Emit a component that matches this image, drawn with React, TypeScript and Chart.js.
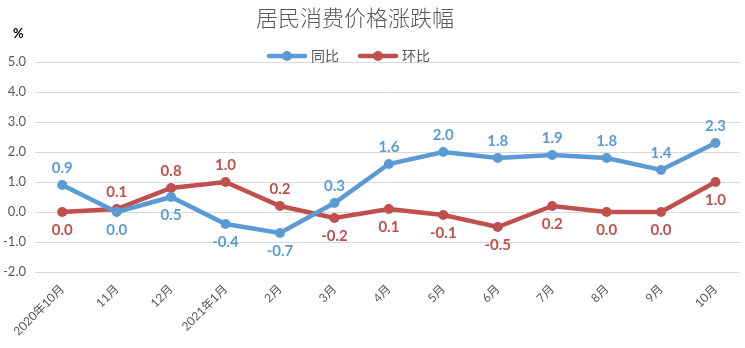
import React, { useEffect, useRef } from "react";
import { Chart, registerables } from "chart.js";

Chart.register(...registerables);

const categories = ["2020年10月", "11月", "12月", "2021年1月", "2月", "3月", "4月", "5月", "6月", "7月", "8月", "9月", "10月"];
const yoy = [0.9, 0.0, 0.5, -0.4, -0.7, 0.3, 1.6, 2.0, 1.8, 1.9, 1.8, 1.4, 2.3];
const mom = [0.0, 0.1, 0.8, 1.0, 0.2, -0.2, 0.1, -0.1, -0.5, 0.2, 0.0, 0.0, 1.0];
// label placement: 1 = above, -1 = below
const yoyPos = [1, -1, -1, -1, -1, 1, 1, 1, 1, 1, 1, 1, 1];
const momPos = [-1, 1, 1, 1, 1, -1, -1, -1, -1, -1, -1, -1, -1];
const seriesNames = ["同比", "环比"];
const title = "居民消费价格涨跌幅";

const BLUE = "#5B9BD5";
const RED = "#C0504D";
const GRAY = "#595959";

const overlay = {
  id: "overlay",
  afterDatasetsDraw(chart: any) {
    const ctx = chart.ctx;
    ctx.save();
    const sets = [
      { pos: yoyPos, color: BLUE, data: yoy },
      { pos: momPos, color: RED, data: mom },
    ];
    sets.forEach((s, di) => {
      const meta = chart.getDatasetMeta(di);
      ctx.font = "bold 15px Lato, 'Open Sans', sans-serif";
      ctx.fillStyle = s.color;
      ctx.textAlign = "center";
      ctx.textBaseline = "middle";
      meta.data.forEach((pt: any, i: number) => {
        const off = s.pos[i] > 0 ? -17 : 18;
        ctx.fillText(s.data[i].toFixed(1), pt.x, pt.y + off);
      });
    });
    ctx.restore();
  },
  afterDraw(chart: any) {
    const ctx = chart.ctx;
    ctx.save();
    // title
    ctx.font = "300 22px 'Noto Sans CJK SC', sans-serif";
    ctx.fillStyle = GRAY;
    ctx.textAlign = "center";
    ctx.textBaseline = "middle";
    ctx.fillText(title, 355, 18);
    // percent unit
    ctx.font = "bold 13px Lato, sans-serif";
    ctx.fillStyle = "#000";
    ctx.textAlign = "left";
    ctx.fillText("%", 13, 34);
    // legend
    const items = [
      { name: seriesNames[0], color: BLUE, x: 269 },
      { name: seriesNames[1], color: RED, x: 360 },
    ];
    items.forEach((it) => {
      ctx.strokeStyle = it.color;
      ctx.lineWidth = 4.5;
      ctx.lineCap = "round";
      ctx.beginPath();
      ctx.moveTo(it.x, 56);
      ctx.lineTo(it.x + 36, 56);
      ctx.stroke();
      ctx.fillStyle = it.color;
      ctx.beginPath();
      ctx.arc(it.x + 18, 56, 5, 0, Math.PI * 2);
      ctx.fill();
      ctx.font = "14px 'Noto Sans CJK SC', sans-serif";
      ctx.fillStyle = GRAY;
      ctx.textAlign = "left";
      ctx.textBaseline = "middle";
      ctx.fillText(it.name, it.x + 42, 56);
    });
    ctx.restore();
  },
};

export default function App() {
  const ref = useRef<HTMLCanvasElement>(null);
  useEffect(() => {
    const toXY = (arr: number[]) => arr.map((v, i) => ({ x: i, y: v }));
    const chart = new Chart(ref.current!, {
      type: "line",
      data: {
        datasets: [
          {
            label: seriesNames[0],
            data: toXY(yoy),
            borderColor: BLUE,
            backgroundColor: BLUE,
            borderWidth: 4.5,
            pointRadius: 5,
            pointBackgroundColor: BLUE,
            pointBorderWidth: 0,
            tension: 0,
          },
          {
            label: seriesNames[1],
            data: toXY(mom),
            borderColor: RED,
            backgroundColor: RED,
            borderWidth: 4.5,
            pointRadius: 5,
            pointBackgroundColor: RED,
            pointBorderWidth: 0,
            tension: 0,
          },
        ],
      },
      options: {
        animation: false,
        responsive: false,
        maintainAspectRatio: false,
        layout: { padding: { top: 62, left: 0, right: 0, bottom: 0 } },
        plugins: {
          legend: { display: false },
          title: { display: false },
          tooltip: { enabled: false },
        },
        scales: {
          x: {
            type: "linear",
            min: -0.5,
            max: 12.45,
            grid: { display: false },
            border: { display: false },
            afterBuildTicks: (scale: any) => {
              scale.ticks = categories.map((_, i) => ({ value: i }));
            },
            afterFit: (scale: any) => {
              scale.height = 76;
            },
            ticks: {
              autoSkip: false,
              maxRotation: 45,
              minRotation: 45,
              padding: 2,
              color: GRAY,
              font: { size: 12, family: "Lato, 'Noto Sans CJK SC', sans-serif" },
              callback: (v: any) => categories[v] ?? "",
            },
          },
          y: {
            min: -2,
            max: 5,
            afterFit: (scale: any) => {
              scale.width = 35;
            },
            ticks: {
              stepSize: 1,
              padding: 9,
              color: GRAY,
              font: { size: 13, family: "Lato, sans-serif" },
              callback: (v: any) => Number(v).toFixed(1),
            },
            grid: { color: "#D9D9D9", lineWidth: 1, drawTicks: false },
            border: { display: false },
          },
        },
      },
      plugins: [overlay],
    });
    return () => chart.destroy();
  }, []);
  return (
    <div style={{ position: "fixed", left: 0, top: 0, width: 745, height: 348, background: "#fff" }}>
      <canvas ref={ref} width={745} height={348} style={{ width: 745, height: 348 }} />
    </div>
  );
}
